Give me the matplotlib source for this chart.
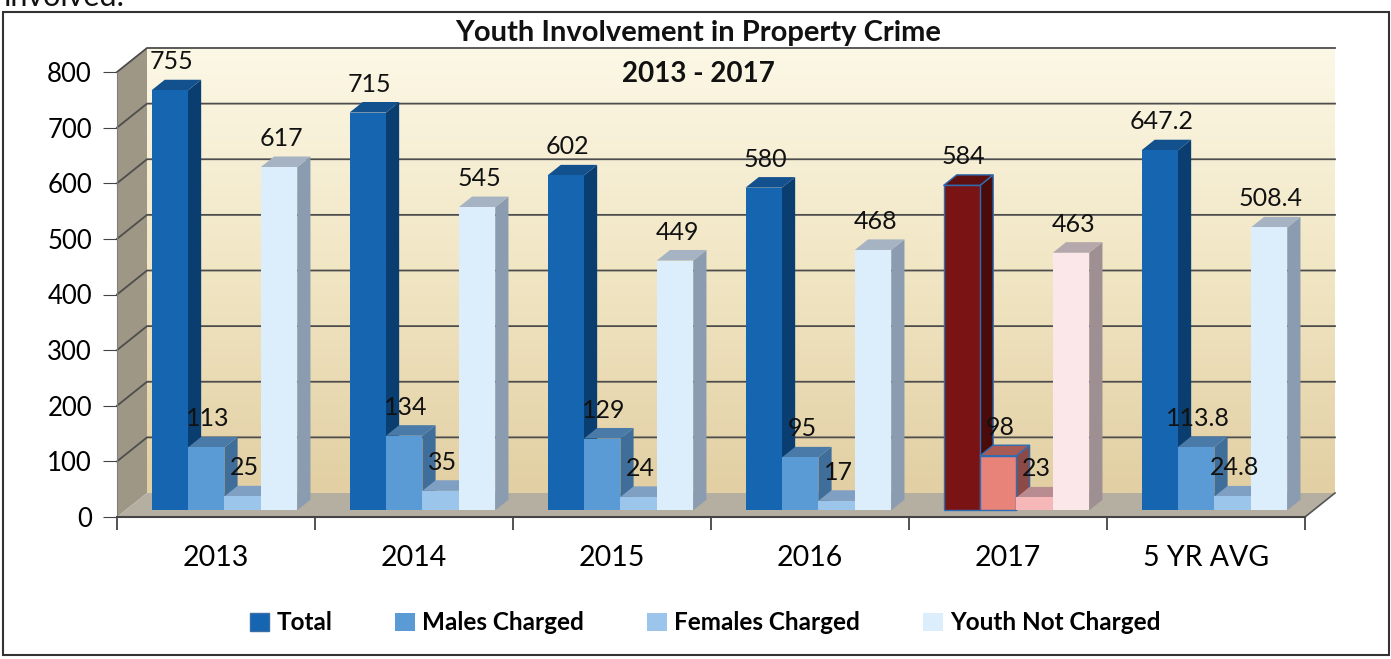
import numpy as np
import matplotlib.pyplot as plt
from matplotlib.patches import Polygon, Rectangle
from matplotlib.colors import LinearSegmentedColormap

# data
categories = ['2013', '2014', '2015', '2016', '2017', '5 YR AVG']
series = ['Total', 'Males Charged', 'Females Charged', 'Youth Not Charged']
total = [755, 715, 602, 580, 584, 647.2]
males = [113, 134, 129, 95, 98, 113.8]
females = [25, 35, 24, 17, 23, 24.8]
not_charged = [617, 545, 449, 468, 463, 508.4]
labels = [['755', '715', '602', '580', '584', '647.2'],
          ['113', '134', '129', '95', '98', '113.8'],
          ['25', '35', '24', '17', '23', '24.8'],
          ['617', '545', '449', '468', '463', '508.4']]
values = [total, males, females, not_charged]

# colours (front, side, top); 2017 is highlighted in reds
front = ['#1565B0', '#5B9BD5', '#9CC5EC', '#DCEDFB']
side = ['#0A3E70', '#3F6E9A', '#6F92B5', '#8C9CB0']
top = ['#13508E', '#4A7BA8', '#7FA0C2', '#A6B3C2']
front_hl = ['#7A1414', '#E8837A', '#F5B7B7', '#FBE6EA']
side_hl = ['#4A0B0B', '#8C4A46', '#A07478', '#9E8F93']
top_hl = ['#5E1010', '#A85A55', '#B88C90', '#B5A8AC']
HL = 4

W, H = 1391, 659
fig = plt.figure(figsize=(W / 100, H / 100), dpi=100)
plt.rcParams['font.family'] = ['Lato', 'DejaVu Sans']

# axes placed so that the front plane matches the picture
x0, x1, y0, y1 = 117, 1305, 517, 72
ax = fig.add_axes([x0 / W, (H - y0) / H, (x1 - x0) / W, (y0 - y1) / H])
ymax = 800
pxx = (x1 - x0) / len(categories)
pxy = (y0 - y1) / ymax

# depth of the 3d box in pixels -> data units
DX, DY = 30 / pxx, 24 / pxy

# back wall gradient
cmap = LinearSegmentedColormap.from_list('wall', ['#E2CFA3', '#F1E6C4', '#FCF8E6'])
grad = np.linspace(0, 1, 256).reshape(-1, 1)
ax.imshow(grad, cmap=cmap, origin='lower', aspect='auto', zorder=0, clip_on=False,
          extent=[DX, len(categories) + DX, DY, ymax + DY])

# left wall and floor
n = len(categories)
ax.add_patch(Polygon([(0, 0), (DX, DY), (DX, ymax + DY), (0, ymax)], closed=True,
                     fc='#9E9785', ec='none', zorder=1, clip_on=False))
ax.add_patch(Polygon([(0, 0), (n, 0), (n + DX, DY), (DX, DY)], closed=True,
                     fc='#B4AFA1', ec='none', zorder=1, clip_on=False))
ax.plot([n, n + DX], [0, DY], color='#555555', lw=1.2, zorder=1, clip_on=False)

# gridlines on both walls
for v in range(100, ymax + 1, 100):
    ax.plot([0, DX, n + DX], [v, v + DY, v + DY], color='#4D4D4D', lw=1.3,
            zorder=1.5, clip_on=False)

# bars with side and top faces
bw = 0.184
f0, f1 = 0.28, 0.72
bdx, bdy = (f1 - f0) * DX, (f1 - f0) * DY
for i in range(n):
    for k in range(4):
        v = values[k][i]
        xl = i + 0.5 + (k - 2) * bw + f0 * DX
        yb = f0 * DY
        fc = front_hl[k] if i == HL else front[k]
        sc = side_hl[k] if i == HL else side[k]
        tc = top_hl[k] if i == HL else top[k]
        ec = '#2E6DB4' if (i == HL and k < 2) else 'none'
        z = 3 + k * 0.1
        ax.add_patch(Polygon([(xl + bw, yb), (xl + bw + bdx, yb + bdy),
                              (xl + bw + bdx, yb + v + bdy), (xl + bw, yb + v)],
                             closed=True, fc=sc, ec=ec, lw=1, zorder=z, clip_on=False))
        ax.add_patch(Polygon([(xl, yb + v), (xl + bw, yb + v),
                              (xl + bw + bdx, yb + v + bdy), (xl + bdx, yb + v + bdy)],
                             closed=True, fc=tc, ec=ec, lw=1, zorder=z, clip_on=False))
        ax.bar(xl, v, width=bw, bottom=yb, align='edge', color=fc, edgecolor=ec,
               lw=1, zorder=z + 0.05, clip_on=False)
        ax.annotate(labels[k][i], xy=(xl + bw / 2, yb + v), xytext=(2, 17),
                    textcoords='offset pixels', ha='center', va='bottom',
                    fontsize=18, color='#111111', zorder=10, annotation_clip=False)

ax.set_xlim(0, n)
ax.set_ylim(0, ymax)
ax.patch.set_visible(False)
for s in ['top', 'right']:
    ax.spines[s].set_visible(False)
ax.spines['left'].set_color('#7F7F7F')
ax.spines['bottom'].set_color('#444444')
ax.spines['bottom'].set_linewidth(1.5)
ax.set_yticks(range(0, ymax + 1, 100))
ax.tick_params(axis='y', labelsize=18.5, length=10, color='#444444', pad=8)
ax.set_xticks(range(n + 1))
ax.set_xticklabels([])
ax.set_xticks(np.arange(n) + 0.5, minor=True)
ax.set_xticklabels(categories, minor=True)
ax.tick_params(axis='x', which='major', length=9, color='#444444', width=1.3)
ax.tick_params(axis='x', which='minor', length=0, labelsize=20.5, pad=20)

# titles
fig.text(698 / W, 1 - 33 / H, 'Youth Involvement in Property Crime', ha='center',
         va='center', fontsize=21, fontweight='bold', color='#111111')
fig.text(698 / W, 1 - 74 / H, '2013 - 2017', ha='center', va='center',
         fontsize=20, fontweight='bold', color='#111111')
fig.text(0.002, 1 - 6 / H, 'involved.', ha='left', va='baseline', fontsize=22,
         color='#111111')

# legend
handles = [Rectangle((0, 0), 1, 1, fc=front[k], ec='#3A6EA5' if k == 0 else 'none')
           for k in range(4)]
fig.legend(handles, series, loc='center', bbox_to_anchor=(705 / W, 1 - 623 / H),
           ncol=4, frameon=False, handlelength=0.8, handleheight=0.8,
           handletextpad=0.3, columnspacing=2.6,
           prop={'weight': 'bold', 'size': 17.5})

# outer frame
fig.add_artist(Rectangle((3 / W, 4 / H), (W - 5) / W, (H - 16) / H,
                         transform=fig.transFigure, fill=False, ec='#333333', lw=1.5))

fig.savefig('out.png', dpi=100)
